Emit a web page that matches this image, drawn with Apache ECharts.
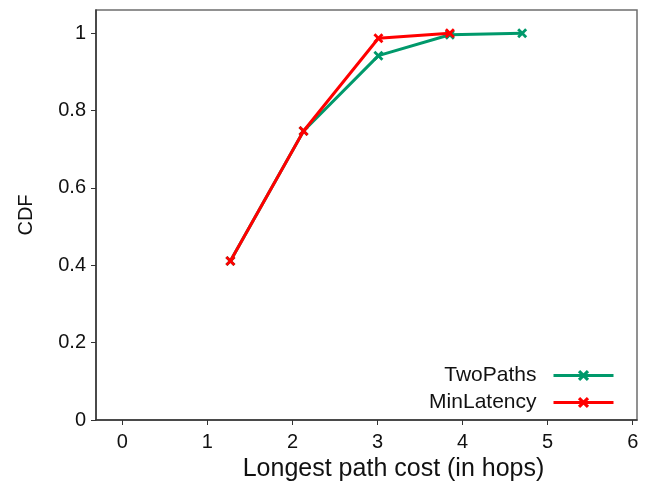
<!DOCTYPE html>
<html>
<head>
<meta charset="utf-8">
<script src="https://cdn.jsdelivr.net/npm/echarts@6/dist/echarts.min.js"></script>
<style>
  html, body { margin: 0; padding: 0; background: #fff; }
  #chart { width: 652px; height: 484px; }
</style>
</head>
<body>
<div id="chart"></div>
<script>
// Longest path cost (hops) and cumulative fraction for each routing scheme
const twoPathsX = [1.27, 2.13, 3.01, 3.85, 4.70];
const twoPathsY = [0.411, 0.747, 0.942, 0.996, 1.0];
const minLatencyX = [1.27, 2.13, 3.01, 3.85];
const minLatencyY = [0.411, 0.747, 0.987, 1.0];

const xTicks = [0, 1, 2, 3, 4, 5, 6];
const yTicks = [0, 0.2, 0.4, 0.6, 0.8, 1];

const seriesNames = ['TwoPaths', 'MinLatency'];
const seriesColors = ['#00996b', '#ff0000'];

// bold "x" marker
const crossMark = 'path://M2,0 L5,3 L8,0 L10,2 L7,5 L10,8 L8,10 L5,7 L2,10 L0,8 L3,5 L0,2 Z';

function pairs(xs, ys) {
  return xs.map((x, i) => [x, ys[i]]);
}

const font = 'Liberation Sans, Arial, sans-serif';
const chart = echarts.init(document.getElementById('chart'), null, { renderer: 'canvas' });

function lineSeries(name, data, color, z) {
  return {
    name: name,
    type: 'line',
    data: data,
    z: z,
    symbol: crossMark,
    symbolSize: 10,
    showAllSymbol: true,
    lineStyle: { color: color, width: 3 },
    itemStyle: { color: color },
    emphasis: { disabled: true },
    animation: false
  };
}

chart.setOption({
  animation: false,
  backgroundColor: '#ffffff',
  grid: {
    left: 96, right: 15, top: 10, bottom: 64,
    outerBoundsMode: 'none',
    containLabel: false,
    show: true, borderColor: '#6e6e6e', borderWidth: 1.5
  },
  legend: {
    orient: 'vertical',
    align: 'right',
    right: 32,
    top: 360,
    itemWidth: 60,
    itemHeight: 14,
    itemGap: 6,
    lineStyle: { width: 3 },
    textStyle: { fontFamily: font, fontSize: 21, color: '#111', padding: [0, 12, 0, 0] },
    data: seriesNames
  },
  xAxis: {
    type: 'value',
    min: -0.31,
    max: 6.05,
    name: 'Longest path cost (in hops)',
    nameLocation: 'middle',
    nameGap: 35,
    nameTextStyle: { fontFamily: font, fontSize: 25, color: '#111', padding: [0, 0, 0, 54] },
    axisLine: { show: true, onZero: false, lineStyle: { color: '#333', width: 1.5 } },
    axisTick: { show: true, length: 5, lineStyle: { color: '#333' }, customValues: xTicks },
    axisLabel: { fontFamily: font, fontSize: 20, color: '#111', margin: 12, customValues: xTicks },
    splitLine: { show: false }
  },
  yAxis: {
    type: 'value',
    min: 0,
    max: 1.06,
    name: 'CDF',
    nameLocation: 'middle',
    nameGap: 60,
    nameTextStyle: { fontFamily: font, fontSize: 20, color: '#111' },
    axisLine: { show: true, onZero: false, lineStyle: { color: '#333', width: 1.5 } },
    axisTick: { show: true, length: 5, lineStyle: { color: '#333' }, customValues: yTicks },
    axisLabel: { fontFamily: font, fontSize: 20, color: '#111', margin: 10, customValues: yTicks },
    splitLine: { show: false }
  },
  series: [
    lineSeries(seriesNames[0], pairs(twoPathsX, twoPathsY), seriesColors[0], 2),
    lineSeries(seriesNames[1], pairs(minLatencyX, minLatencyY), seriesColors[1], 3)
  ]
});
</script>
</body>
</html>
